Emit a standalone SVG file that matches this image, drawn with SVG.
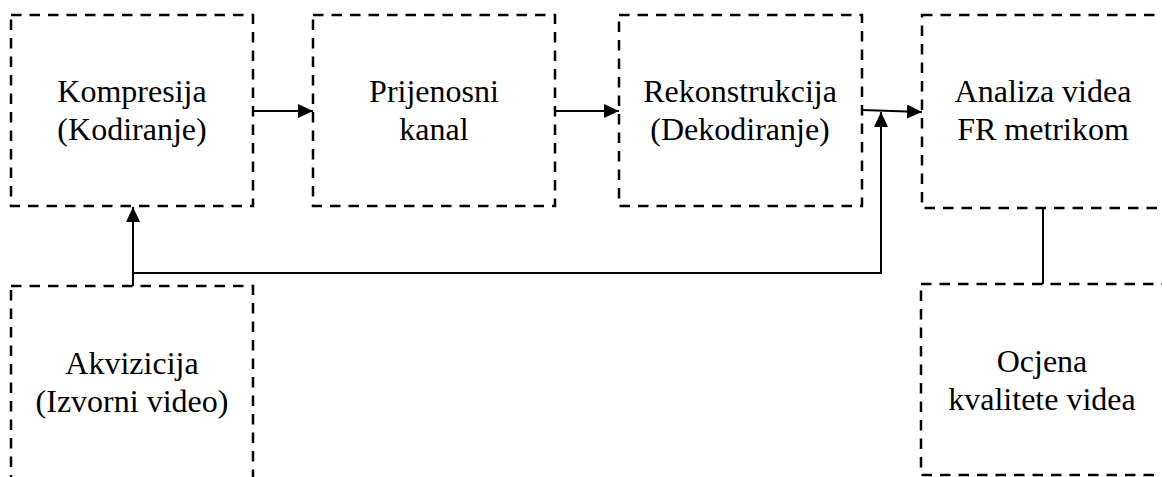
<svg xmlns="http://www.w3.org/2000/svg" width="1162" height="477" viewBox="0 0 1162 477">
<style>
.box{fill:none;stroke:#000;stroke-width:2.5;stroke-dasharray:10.5 8}
.lbl{font-family:"Liberation Serif","Times New Roman",serif;font-size:32px;fill:#000;text-anchor:middle}
.con{fill:none;stroke:#000;stroke-width:2}
</style>
<defs>
<marker id="arr" markerUnits="userSpaceOnUse" markerWidth="16" markerHeight="14" refX="15" refY="7" orient="auto">
<path d="M0,0 L15,7 L0,14 z" fill="#000"/>
</marker>
</defs>
<rect width="1162" height="477" fill="#fff"/>
<g id="n-kompresija">
<rect class="box" x="11" y="15" width="242" height="191"/>
<text class="lbl" x="132" y="102">Kompresija</text>
<text class="lbl" x="132" y="140">(Kodiranje)</text>
</g>
<g id="n-prijenosni">
<rect class="box" x="313" y="15" width="242" height="191"/>
<text class="lbl" x="434" y="102">Prijenosni</text>
<text class="lbl" x="434" y="140">kanal</text>
</g>
<g id="n-rekonstrukcija">
<rect class="box" x="619" y="15" width="243" height="191"/>
<text class="lbl" x="740" y="102">Rekonstrukcija</text>
<text class="lbl" x="740" y="140">(Dekodiranje)</text>
</g>
<g id="n-analiza">
<rect class="box" x="922" y="15" width="243" height="193"/>
<text class="lbl" x="1043" y="102">Analiza videa</text>
<text class="lbl" x="1043" y="140">FR metrikom</text>
</g>
<g id="n-ocjena">
<rect class="box" x="921" y="284" width="243" height="191"/>
<text class="lbl" x="1042" y="372">Ocjena</text>
<text class="lbl" x="1042" y="410">kvalitete videa</text>
</g>
<g id="n-akvizicija">
<rect class="box" x="11" y="286" width="242" height="200"/>
<text class="lbl" x="132" y="374">Akvizicija</text>
<text class="lbl" x="132" y="412">(Izvorni video)</text>
</g>
<g id="connectors">
<line class="con" x1="253" y1="111" x2="313" y2="111" marker-end="url(#arr)"/>
<line class="con" x1="555" y1="111" x2="619" y2="111" marker-end="url(#arr)"/>
<line class="con" x1="862" y1="110" x2="922" y2="112" marker-end="url(#arr)"/>
<line class="con" x1="133" y1="286" x2="133" y2="207" marker-end="url(#arr)"/>
<polyline class="con" points="133,273 881,273 881,112" marker-end="url(#arr)"/>
<line class="con" x1="1043" y1="208" x2="1043" y2="284"/>
</g>
</svg>
